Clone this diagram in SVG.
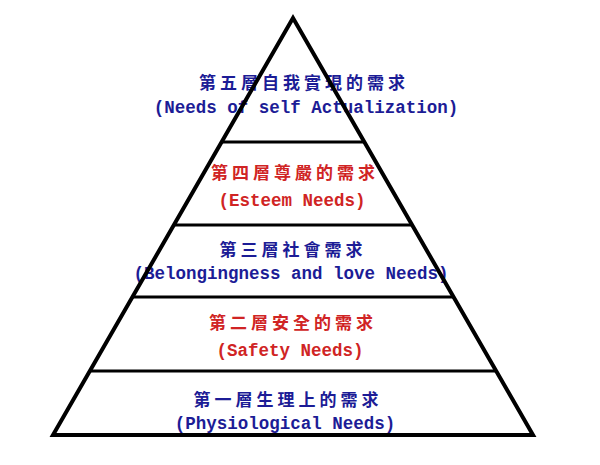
<svg xmlns="http://www.w3.org/2000/svg" width="600" height="465" viewBox="0 0 600 465">
<style>
.zh{font-family:"Noto Sans CJK TC","Noto Sans CJK SC",sans-serif;font-size:17px;font-weight:bold;letter-spacing:4px;text-anchor:middle}
.en{font-family:"Liberation Mono","DejaVu Sans Mono",monospace;font-size:17.5px;font-weight:bold;text-anchor:middle}
.blue{fill:#1c1c96}
.red{fill:#d02424}
.edge{fill:none;stroke:#000;stroke-width:4;stroke-linejoin:miter}
.tier{stroke:#000;stroke-width:3}
</style>
<rect width="600" height="465" fill="#fff"/>
<g id="level5">
<text class="zh blue" x="304" y="89">第五層自我實現的需求</text>
<text class="en blue" x="306" y="113">(Needs of self Actualization)</text>
</g>
<g id="level4">
<text class="zh red" x="295" y="179">第四層尊嚴的需求</text>
<text class="en red" x="292" y="206">(Esteem Needs)</text>
</g>
<g id="level3">
<text class="zh blue" x="293" y="256">第三層社會需求</text>
<text class="en blue" x="291" y="279">(Belongingness and love Needs)</text>
</g>
<g id="level2">
<text class="zh red" x="293" y="329">第二層安全的需求</text>
<text class="en red" x="290" y="356">(Safety Needs)</text>
</g>
<g id="level1">
<text class="zh blue" x="288" y="406">第一層生理上的需求</text>
<text class="en blue" x="285" y="429">(Physiological Needs)</text>
</g>
<g id="connectors">
<line class="tier" x1="222" y1="142" x2="364" y2="142"/>
<line class="tier" x1="174" y1="225" x2="412" y2="225"/>
<line class="tier" x1="132" y1="297" x2="454" y2="297"/>
<line class="tier" x1="90" y1="371" x2="496" y2="371"/>
<polygon class="edge" points="293,18 53,435 533,435"/>
</g>
</svg>
